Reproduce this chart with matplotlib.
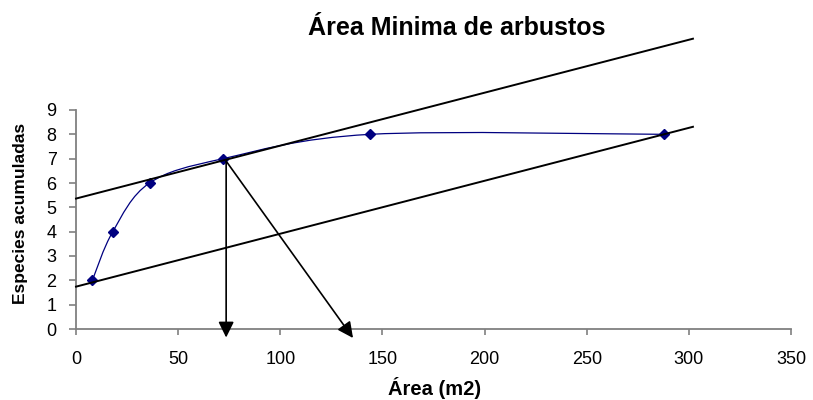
import matplotlib
matplotlib.use("Agg")
import matplotlib.pyplot as plt
from matplotlib.path import Path
from matplotlib.patches import PathPatch

plt.rcParams["font.family"] = ["Liberation Sans", "DejaVu Sans"]

# datos de la curva especie-area
areas = [8, 18, 36, 72, 144, 288]
especies = [2, 4, 6, 7, 8, 8]

# rectas paralelas trazadas a mano sobre el grafico
recta_x = [0, 302]
recta_sup = [5.36, 11.93]
recta_inf = [1.74, 8.31]

# flechas desde el punto de inflexion
flecha_origen = (73.5, 6.9)
flecha_vertical = (73.5, -0.35)
flecha_diagonal = (135.6, -0.37)

x_ticks = list(range(0, 351, 50))
y_ticks = list(range(0, 10))

NAVY = "#000080"
GRIS = "#808080"

fig = plt.figure(figsize=(8.13, 4.0), dpi=100)
ax = fig.add_axes([76 / 813, 71 / 400, 715 / 813, 219 / 400])

# linea suavizada tipo Excel (bezier con tangentes catmull-rom)
pts = list(zip(areas, especies))
verts = [pts[0]]
codes = [Path.MOVETO]
n = len(pts)
for i in range(n - 1):
    p0 = pts[i - 1] if i > 0 else pts[i]
    p1 = pts[i]
    p2 = pts[i + 1]
    p3 = pts[i + 2] if i + 2 < n else pts[i + 1]
    c1 = (p1[0] + (p2[0] - p0[0]) / 6, p1[1] + (p2[1] - p0[1]) / 6)
    c2 = (p2[0] - (p3[0] - p1[0]) / 6, p2[1] - (p3[1] - p1[1]) / 6)
    verts += [c1, c2, p2]
    codes += [Path.CURVE4] * 3
ax.add_patch(PathPatch(Path(verts, codes), facecolor="none", edgecolor=NAVY, lw=0.9, zorder=3))
ax.plot(areas, especies, linestyle="none", marker="D", markersize=5, color=NAVY, zorder=4)

ax.plot(recta_x, recta_sup, color="black", lw=1.4, clip_on=False, zorder=5)
ax.plot(recta_x, recta_inf, color="black", lw=1.4, clip_on=False, zorder=5)

for destino in (flecha_vertical, flecha_diagonal):
    ax.annotate("", xy=destino, xytext=flecha_origen,
                arrowprops=dict(arrowstyle="-|>,head_length=0.95,head_width=0.47",
                                mutation_scale=10, color="black", lw=1.2,
                                shrinkA=0, shrinkB=0),
                annotation_clip=False, zorder=6)

ax.set_xlim(0, 350)
ax.set_ylim(0, 9)
ax.set_xticks(x_ticks)
ax.set_yticks(y_ticks)
for lado in ("top", "right"):
    ax.spines[lado].set_visible(False)
for lado in ("left", "bottom"):
    ax.spines[lado].set_color(GRIS)
    ax.spines[lado].set_linewidth(1.3)
ax.tick_params(axis="both", direction="out", color=GRIS, width=1.2, labelsize=13)
ax.tick_params(axis="x", length=4, pad=12)
ax.tick_params(axis="y", length=5, pad=9)

fig.text(457 / 813, 1 - 28 / 400, "Área Minima de arbustos", ha="center", va="center",
         fontsize=18, fontweight="bold")
fig.text(435 / 813, 1 - 388 / 400, "Área (m2)", ha="center", va="center",
         fontsize=14.5, fontweight="bold")
fig.text(21 / 813, 1 - 213 / 400, "Especies acumuladas", ha="center", va="center",
         rotation=90, fontsize=12.5, fontweight="bold")

fig.savefig("out.png", dpi=100)
